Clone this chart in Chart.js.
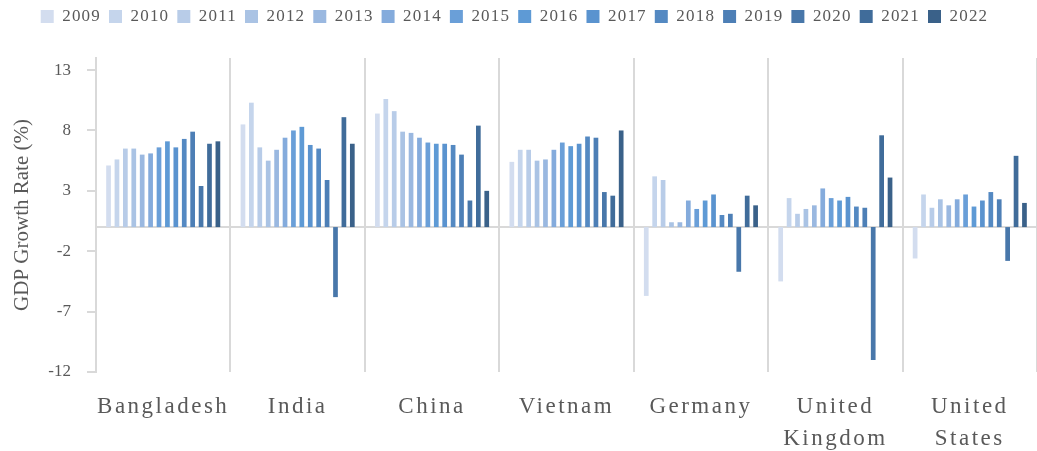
<!DOCTYPE html>
<html>
<head>
<meta charset="utf-8">
<script src="https://cdn.jsdelivr.net/npm/chart.js@4.4.1/dist/chart.umd.min.js"></script>
<style>
    html, body { margin: 0; padding: 0; background: #fff; overflow: hidden; }
    #wrap { width: 1037px; height: 451px; }
</style>
</head>
<body>
<div id="wrap"><canvas id="gdpChart" width="1037" height="451"></canvas></div>
<script>
// categories
const countries = ['Bangladesh', 'India', 'China', 'Vietnam', 'Germany', ['United', 'Kingdom'], ['United', 'States']]
const years = ['2009', '2010', '2011', '2012', '2013', '2014', '2015', '2016', '2017', '2018', '2019', '2020', '2021', '2022']

// growth rate per country, 2009 -> 2022
const bangladesh = [5.1, 5.6, 6.5, 6.5, 6.0, 6.1, 6.6, 7.1, 6.6, 7.3, 7.9, 3.4, 6.9, 7.1]
const india = [8.5, 10.3, 6.6, 5.5, 6.4, 7.4, 8.0, 8.3, 6.8, 6.5, 3.9, -5.8, 9.1, 6.9]
const china = [9.4, 10.6, 9.6, 7.9, 7.8, 7.4, 7.0, 6.9, 6.9, 6.8, 6.0, 2.2, 8.4, 3.0]
const vietnam = [5.4, 6.4, 6.4, 5.5, 5.6, 6.4, 7.0, 6.7, 6.9, 7.5, 7.4, 2.9, 2.6, 8.0]
const germany = [-5.7, 4.2, 3.9, 0.4, 0.4, 2.2, 1.5, 2.2, 2.7, 1.0, 1.1, -3.7, 2.6, 1.8]
const unitedKingdom = [-4.5, 2.4, 1.1, 1.5, 1.8, 3.2, 2.4, 2.2, 2.5, 1.7, 1.6, -11.0, 7.6, 4.1]
const unitedStates = [-2.6, 2.7, 1.6, 2.3, 1.8, 2.3, 2.7, 1.7, 2.2, 2.9, 2.3, -2.8, 5.9, 2.0]

// y tick labels
const yTicks = [-12, -7, -2, 3, 8, 13]

const yearColors = ['#d3ddef', '#c5d5ec', '#b8cce8', '#aac3e4', '#9ab8e0', '#84abdc', '#6a9fd8',
    '#5e9ad5', '#5a93cf', '#5489c2', '#4d7fb6', '#4877aa', '#406c9a', '#3a6189']

const seriesByCountry = [bangladesh, india, china, vietnam, germany, unitedKingdom, unitedStates]

// category axis whose labels are drawn with letter spacing
class SpacedCategory extends Chart.CategoryScale {
    drawLabels(area) {
        this.ctx.save()
        this.ctx.letterSpacing = '2.5px'
        super.drawLabels(area)
        this.ctx.restore()
    }
}
SpacedCategory.id = 'spacedCategory'
SpacedCategory.defaults = Chart.CategoryScale.defaults
Chart.register(SpacedCategory)

// horizontal line at zero
const zeroLine = {
    id: 'zeroLine',
    beforeDatasetsDraw(chart) {
        const { ctx, chartArea, scales } = chart
        const y = scales.y.getPixelForValue(0)
        ctx.save()
        ctx.strokeStyle = '#d9d9d9'
        ctx.lineWidth = 2
        ctx.beginPath()
        ctx.moveTo(chartArea.left, y)
        ctx.lineTo(chartArea.right, y)
        ctx.stroke()
        ctx.restore()
    }
}

// tracked legend text, extra room under the legend, nudge it left a bit
const legendSpace = {
    id: 'legendSpace',
    beforeInit(chart) {
        const legend = chart.legend
        const origFit = legend.fit
        const origDraw = legend.draw
        legend.fit = function () {
            const prev = this.ctx.letterSpacing
            this.ctx.letterSpacing = '1.2px'
            origFit.call(this)
            this.ctx.letterSpacing = prev
            this.height += 23
        }
        legend.draw = function () {
            this.ctx.save()
            this.ctx.letterSpacing = '1.2px'
            origDraw.call(this)
            this.ctx.restore()
        }
    },
    afterLayout(chart) {
        chart.legend.left -= 7
        chart.legend.right -= 7
    }
}

Chart.defaults.font.family = "'Liberation Serif', 'Times New Roman', serif"
Chart.defaults.color = '#595959'

const datasets = years.map((year, i) => ({
    label: year,
    data: seriesByCountry.map(s => s[i]),
    backgroundColor: yearColors[i],
    borderWidth: 0,
    categoryPercentage: 0.876,
    barPercentage: 0.56
}))

new Chart(document.querySelector('#gdpChart'), {
    type: 'bar',
    data: { labels: countries, datasets: datasets },
    plugins: [zeroLine, legendSpace],
    options: {
        responsive: false,
        animation: false,
        layout: { padding: { top: 0, right: -6, bottom: 0, left: 0 } },
        plugins: {
            legend: {
                position: 'top',
                labels: {
                    boxWidth: 13,
                    boxHeight: 13,
                    padding: 8,
                    font: { size: 17 },
                    color: '#595959'
                }
            },
            tooltip: { enabled: false }
        },
        scales: {
            x: {
                type: 'spacedCategory',
                offset: true,
                grid: {
                    offset: true,
                    color: '#d9d9d9',
                    lineWidth: 2,
                    drawTicks: false
                },
                border: { display: false },
                ticks: {
                    font: { size: 23, lineHeight: 1.4 },
                    color: '#595959',
                    padding: 19,
                    maxRotation: 0,
                    autoSkip: false
                },
                afterFit(scale) { scale.height = 79 }
            },
            y: {
                min: -12,
                max: 14,
                afterBuildTicks(scale) {
                    scale.ticks = yTicks.map(v => ({ value: v }))
                },
                grid: {
                    drawOnChartArea: false,
                    color: '#d9d9d9',
                    lineWidth: 2,
                    tickLength: 9
                },
                border: { color: '#d9d9d9', width: 2 },
                ticks: {
                    font: { size: 17 },
                    color: '#595959',
                    padding: 16
                },
                title: {
                    display: true,
                    text: 'GDP Growth Rate (%)',
                    font: { size: 21 },
                    color: '#595959',
                    padding: { top: 10, bottom: 0 }
                },
                afterFit(scale) { scale.width = 96 }
            }
        }
    }
})
</script>
</body>
</html>
